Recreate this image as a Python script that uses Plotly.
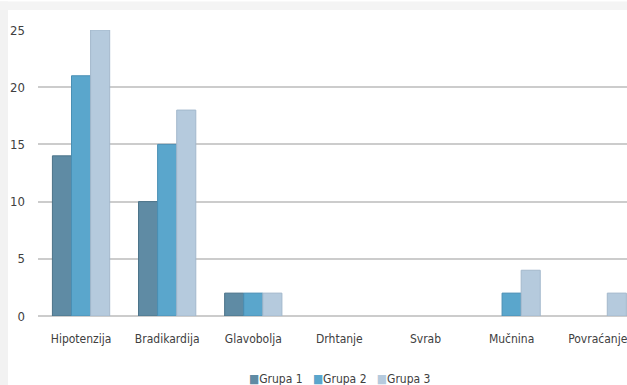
import plotly.graph_objects as go

categories = ["Hipotenzija", "Bradikardija", "Glavobolja", "Drhtanje", "Svrab", "Mučnina", "Povraćanje"]
grupa1 = [14, 10, 2, 0, 0, 0, 0]
grupa2 = [21, 15, 2, 0, 0, 2, 0]
grupa3 = [25, 18, 2, 0, 0, 4, 2]
series_names = ["Grupa 1", "Grupa 2", "Grupa 3"]
y_ticks = [0, 5, 10, 15, 20, 25]

colors = ["#5f8ba4", "#5aa6cc", "#b5cadd"]
borders = ["#4b7389", "#4a8fb4", "#a3b8cc"]

FONT = "DejaVu Sans Condensed, Liberation Sans Narrow, sans-serif"

fig = go.Figure()
for name, vals, c, b in zip(series_names, [grupa1, grupa2, grupa3], colors, borders):
    fig.add_trace(go.Bar(x=categories, y=vals, name=name, showlegend=False,
                         marker=dict(color=c, line=dict(color=b, width=[1 if v else 0 for v in vals]))))

# light frame strips (screenshot border)
fig.add_shape(type="rect", xref="paper", yref="paper",
              x0=-0.065, x1=-0.051, y0=-0.25, y1=1.1,
              fillcolor="#f2f2f2", line=dict(width=0), layer="below")
fig.add_shape(type="rect", xref="paper", yref="paper",
              x0=-0.065, x1=1.0, y0=1.07, y1=1.1,
              fillcolor="#f4f4f4", line=dict(width=0), layer="below")

legend_text = "&nbsp;&nbsp;&nbsp;".join(
    f"<span style='color:{c}'>■</span>{n}" for n, c in zip(series_names, colors)
)
fig.add_annotation(text=legend_text, xref="paper", yref="paper",
                   x=0.355, xanchor="left", y=-0.22, yanchor="middle",
                   showarrow=False, font=dict(size=12, color="#404040"))

fig.update_layout(
    width=627, height=385,
    margin=dict(l=38, r=0, t=30, b=69),
    paper_bgcolor="white",
    plot_bgcolor="rgba(0,0,0,0)",
    barmode="group",
    bargap=0.335,
    bargroupgap=0,
    font=dict(family=FONT, size=12, color="#404040"),
    showlegend=False,
    xaxis=dict(range=[-0.5, 6.34], showgrid=False, showline=False, ticks="",
               ticklabelstandoff=14,
               tickfont=dict(size=12, color="#404040")),
    yaxis=dict(range=[0, 25], tickvals=y_ticks, showgrid=True, gridcolor="#cccccc",
               gridwidth=2, zeroline=True, zerolinecolor="#cccccc", zerolinewidth=2,
               showline=False, ticks="", ticklabelstandoff=12,
               tickfont=dict(size=13, color="#404040")),
)

fig.write_html("out.html")
